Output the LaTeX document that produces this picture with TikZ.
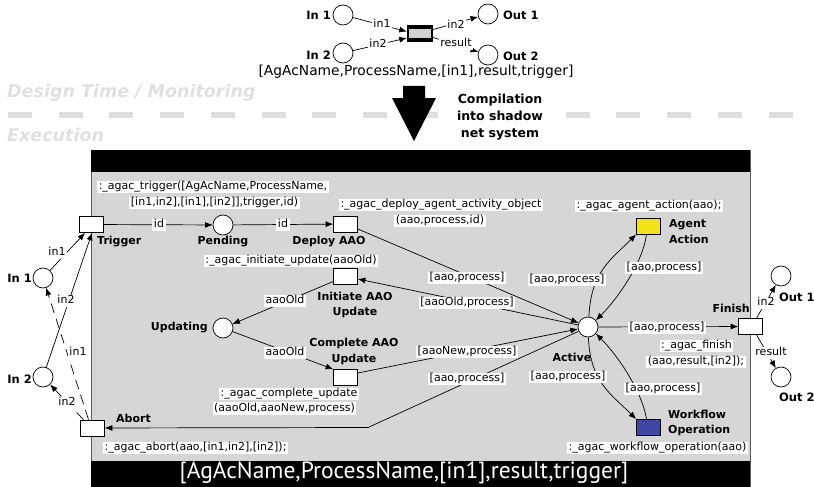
\documentclass[tikz,border=0pt]{standalone}
\usepackage{fontspec}
\setmainfont{DejaVu Sans}
\newfontfamily\barfont{PT Sans}
\usetikzlibrary{arrows.meta,calc}
\definecolor{netgray}{RGB}{214,214,214}
\definecolor{bandgray}{RGB}{222,222,222}
\definecolor{titlegray}{RGB}{224,224,224}
\definecolor{agentyellow}{RGB}{243,225,26}
\definecolor{wfblue}{RGB}{64,70,166}
\definecolor{framegray}{RGB}{90,90,90}
\tikzset{
  place/.style={circle,draw,fill=white,minimum size=20pt,inner sep=0pt,line width=0.7pt},
  trans/.style={rectangle,draw,fill=white,minimum width=24pt,minimum height=16pt,inner sep=0pt,line width=0.7pt},
  arc/.style={line width=0.7pt,-{Latex[length=7.5pt,width=6pt]}},
  dasharc/.style={arc,dash pattern=on 10pt off 6pt},
  lbl/.style={fill=white,inner xsep=1.5pt,inner ysep=0.8pt,font=\fontsize{11}{13}\selectfont,text height=8.4pt,text depth=2.6pt},
  pname/.style={inner sep=0pt,font=\fontsize{11}{15.5}\selectfont\bfseries},
  ioname/.style={inner sep=0pt,font=\fontsize{11.5}{14}\selectfont\bfseries},
}
\begin{document}
\begin{tikzpicture}[x=1pt,y=-1pt]
\useasboundingbox (0,0) rectangle (814,487);

% ---------- design-time net ----------
\node[place] (tin1) at (343,15) {};
\node[place] (tin2) at (343,53) {};
\node[place] (tout1) at (488,14) {};
\node[place] (tout2) at (488,55) {};
\node[fill=black,minimum width=26pt,minimum height=17pt,inner sep=0pt] (tbox) at (420,33.5) {};
\fill[gray!35] ($(tbox.north west)+(2.5,4)$) rectangle ($(tbox.south east)+(-2.5,-4)$);
\node[ioname,anchor=east] (ltin1) at (331,15) {In 1};
\node[ioname,anchor=east] (ltin2) at (331,55) {In 2};
\node[ioname,anchor=west] (ltout1) at (503,15) {Out 1};
\node[ioname,anchor=west] (ltout2) at (503,56) {Out 2};

\draw[arc] (tin1) -- ($(tbox.west)+(0,-2)$);
\draw[arc] (tin2) -- ($(tbox.west)+(0,4.5)$);
\draw[arc] ($(tbox.east)+(0,-4)$) -- (tout1);
\draw[arc] ($(tbox.east)+(0,4)$) -- (tout2);
\node[lbl] (ltin1a) at (382,24.5) {in1};
\node[lbl] (ltin2a) at (378,45) {in2};
\node[lbl] (ltout1a) at (456,25.5) {in2};
\node[lbl] (ltout2a) at (456,44) {result};

\node[font=\fontsize{13.8}{16}\selectfont,inner sep=0pt] (tsig) at (416,72) {[AgAcName,ProcessName,[in1],result,trigger]};

% ---------- separator ----------
\node[anchor=base west,inner sep=0pt,text=titlegray,font=\fontsize{17.5}{20}\selectfont\bfseries\itshape] (tdesign) at (7,98) {Design Time / Monitoring};
\node[anchor=base west,inner sep=0pt,text=titlegray,font=\fontsize{17.5}{20}\selectfont\bfseries\itshape] (texec) at (7,141) {Execution};
\draw[bandgray,line width=6pt,dash pattern=on 24pt off 26.7pt] (8,115) -- (795,115);
\fill[black] (403,86) -- (425,86) -- (425,98) -- (436,98) -- (414,141) -- (392,98) -- (403,98) -- cycle;
\node[fill=white,inner sep=1pt,align=center,font=\fontsize{12.5}{17}\selectfont\bfseries] (tcomp) at (500,117) {Compilation\\into shadow\\net system};

% ---------- shadow net frame ----------
\fill[netgray] (91,150) rectangle (750,487);
\draw[framegray,line width=0.6pt] (91,150) -- (91,487) (750,150) -- (750,487);
\fill[black] (91,150) rectangle (750,172);
\fill[black] (91,461) rectangle (750,487);
\node[text=white,inner sep=0pt,font=\barfont\fontsize{23.5}{25}\selectfont] (sig) at (404,473) {[AgAcName,ProcessName,[in1],result,trigger]};

% ---------- places ----------
\node[place] (in1) at (43,278) {};
\node[place] (in2) at (43,377) {};
\node[place] (pend) at (223,225) {};
\node[place] (upd) at (223,328) {};
\node[place] (active) at (588,327) {};
\node[place] (out1) at (781,276) {};
\node[place] (out2) at (781,377) {};

% ---------- transitions ----------
\node[trans] (trig) at (91,224.5) {};
\node[trans] (abort) at (92.5,428) {};
\node[trans] (deploy) at (345.5,224) {};
\node[trans] (init) at (345.5,276.5) {};
\node[trans] (compl) at (345.5,377.5) {};
\node[trans,fill=agentyellow] (agent) at (648.5,226) {};
\node[trans,fill=wfblue] (wflow) at (648.5,427.5) {};
\node[trans] (finish) at (750.5,326.5) {};

% ---------- names ----------
\node[ioname,anchor=east] (lin1) at (32,278) {In 1};
\node[ioname,anchor=east] (lin2) at (32,379) {In 2};
\node[ioname,anchor=west] (lout1) at (779,297) {Out 1};
\node[ioname,anchor=west] (lout2) at (779,397) {Out 2};
\node[pname,anchor=west] (ltrig) at (97,242) {Trigger};
\node[pname] (lpend) at (223,242) {Pending};
\node[pname] (ldeploy) at (329,242) {Deploy AAO};
\node[pname,align=center] (linit) at (355,305) {Initiate AAO\\Update};
\node[pname,anchor=east] (lupd) at (208,328) {Updating};
\node[pname,align=center] (lcompl) at (354,351.5) {Complete AAO\\Update};
\node[pname] (lactive) at (572,357) {Active};
\node[pname,align=left,anchor=west] (lagent) at (669,231.5) {Agent\\Action};
\node[pname,align=left,anchor=west] (lwflow) at (668,423) {Workflow\\Operation};
\node[pname,anchor=east] (lfinish) at (750,308) {Finish};
\node[pname,anchor=west] (labort) at (116,418) {Abort};

% ---------- arcs ----------
\draw[arc] (in1) -- ($(trig.south)+(-6,0)$);
\draw[arc] (in2) -- ($(trig.south)+(1,0)$);
\draw[dasharc] ($(abort.north)+(-4,0)$) -- (in1);
\draw[dasharc] ($(abort.north)+(-9,0)$) -- (in2);
\draw[arc] (trig) -- (pend);
\draw[arc] (pend) -- (deploy);
\draw[arc] ($(deploy.east)+(0,5)$) -- (active);
\draw[arc] (active) -- ($(init.east)+(0,2.5)$);
\draw[arc] ($(compl.east)+(0,-4.5)$) -- (active);
\coordinate (bend) at (368,427.5);
\draw[arc] (active) -- (bend) -- (abort);
\draw[arc] ($(init.west)+(0,5)$) -- (upd);
\draw[arc] (upd) -- (compl.north west);
\draw[arc] (active.85) .. controls +(2,-45) and +(-25,25) .. (agent.south west);
\draw[arc] ($(agent.south)+(-2,0)$) .. controls +(-4,30) and +(20,-20) .. (active.40);
\draw[arc] (active.-88) .. controls +(2,45) and +(-25,-25) .. (wflow.north west);
\draw[arc] ($(wflow.north)+(-2,0)$) .. controls +(-5,-30) and +(20,20) .. (active.-40);
\draw[arc] (active) -- (finish);
\draw[arc] ($(finish.north)+(6,0)$) -- (out1);
\draw[arc] ($(finish.south)+(6,0)$) -- (out2);

% ---------- arc inscriptions ----------
\node[lbl] (a1) at (57,253) {in1};
\node[lbl] (a2) at (66,301) {in2};
\node[lbl] (a3) at (78,353) {in1};
\node[lbl] (a4) at (67,403) {in2};
\node[lbl] (a5) at (159,225) {id};
\node[lbl] (a6) at (283,225) {id};
\node[lbl] (a7) at (467,278) {[aao,process]};
\node[lbl] (a8) at (467,303) {[aaoOld,process]};
\node[lbl] (a9) at (467,352) {[aaoNew,process]};
\node[lbl] (a10) at (467,379) {[aao,process]};
\node[lbl] (a11) at (285,301) {aaoOld};
\node[lbl] (a12) at (285,353) {aaoOld};
\node[lbl] (a13) at (567,280) {[aao,process]};
\node[lbl] (a14) at (664,268) {[aao,process]};
\node[lbl] (a15) at (667,328) {[aao,process]};
\node[lbl] (a16) at (568,377) {[aao,process]};
\node[lbl] (a17) at (663,389) {[aao,process]};
\node[lbl] (a18) at (766,303) {in2};
\node[lbl] (a19) at (771,353) {result};

% ---------- transition inscriptions ----------
\node[lbl] (i1) at (213,187) {:\_agac\_trigger([AgAcName,ProcessName,};
\node[lbl] (i2) at (214.5,203) {[in1,in2],[in1],[in2]],trigger,id)};
\node[lbl] (i3) at (441,205) {:\_agac\_deploy\_agent\_activity\_object};
\node[lbl] (i4) at (440,221) {(aao,process,id)};
\node[lbl] (i5) at (291,261) {:\_agac\_initiate\_update(aaoOld)};
\node[lbl] (i6) at (289,394) {:\_agac\_complete\_update};
\node[lbl] (i7) at (284.5,408.5) {(aaoOld,aaoNew,process)};
\node[lbl] (i8) at (649,206) {:\_agac\_agent\_action(aao);};
\node[lbl] (i9) at (696.5,346) {:\_agac\_finish};
\node[lbl] (i10) at (696,362) {(aao,result,[in2]);};
\node[lbl,anchor=west] (i11) at (103,448) {:\_agac\_abort(aao,[in1,in2],[in2]);};
\node[lbl,anchor=east] (i12) at (748,448) {:\_agac\_workflow\_operation(aao)};
\end{tikzpicture}
\end{document}
